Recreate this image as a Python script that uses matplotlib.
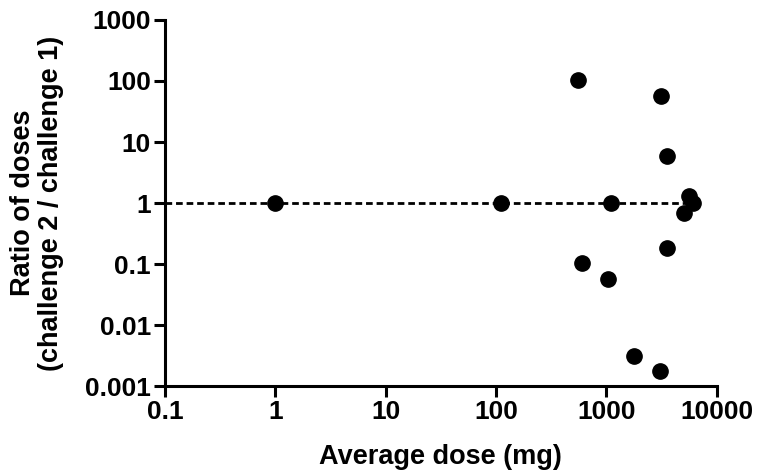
import matplotlib
matplotlib.use("Agg")
import matplotlib.pyplot as plt
from matplotlib.ticker import FixedLocator, FixedFormatter, NullLocator

# average dose (mg) vs ratio of doses (challenge 2 / challenge 1)
avg_dose = [1, 110, 554, 3110, 3575, 1096, 5610, 6100, 5060, 3575, 607, 1045, 1782, 3045]
dose_ratio = [1, 1, 105, 56, 5.8, 1, 1.3, 1, 0.69, 0.185, 0.103, 0.057, 0.0031, 0.0018]

x_ticks = [0.1, 1, 10, 100, 1000, 10000]
x_tick_labels = ["0.1", "1", "10", "100", "1000", "10000"]
y_ticks = [0.001, 0.01, 0.1, 1, 10, 100, 1000]
y_tick_labels = ["0.001", "0.01", "0.1", "1", "10", "100", "1000"]
ref_line_x = [0.1, 7500]
ref_line_y = [1, 1]

plt.rcParams["font.family"] = ["Liberation Sans", "DejaVu Sans"]
plt.rcParams["font.weight"] = "bold"

fig = plt.figure(figsize=(7.6, 4.75), dpi=100)
ax = fig.add_axes([0.217, 0.187, 0.726, 0.771])

ax.plot(ref_line_x, ref_line_y, color="black", linewidth=2.0,
        linestyle=(0, (2.4, 1.4)), zorder=2)
ax.plot(avg_dose, dose_ratio, "o", color="black", markersize=11, zorder=3,
        clip_on=False)

ax.set_xscale("log")
ax.set_yscale("log")
ax.set_xlim(0.1, 10000)
ax.set_ylim(0.001, 1000)

ax.xaxis.set_major_locator(FixedLocator(x_ticks))
ax.xaxis.set_major_formatter(FixedFormatter(x_tick_labels))
ax.yaxis.set_major_locator(FixedLocator(y_ticks))
ax.yaxis.set_major_formatter(FixedFormatter(y_tick_labels))
ax.xaxis.set_minor_locator(NullLocator())
ax.yaxis.set_minor_locator(NullLocator())

for spine in ("top", "right"):
    ax.spines[spine].set_visible(False)
for spine in ("bottom", "left"):
    ax.spines[spine].set_linewidth(2.2)

ax.tick_params(axis="both", which="major", direction="out", length=8,
               width=2.2, labelsize=19, pad=2)
for lbl in ax.get_xticklabels() + ax.get_yticklabels():
    lbl.set_fontweight("bold")

ax.set_xlabel("Average dose (mg)", fontsize=19.5, fontweight="bold", labelpad=14)
ax.set_ylabel("Ratio of doses\n(challenge 2 / challenge 1)", fontsize=19.5,
              fontweight="bold", labelpad=15, linespacing=1.1)

fig.savefig("out.png", dpi=100)
